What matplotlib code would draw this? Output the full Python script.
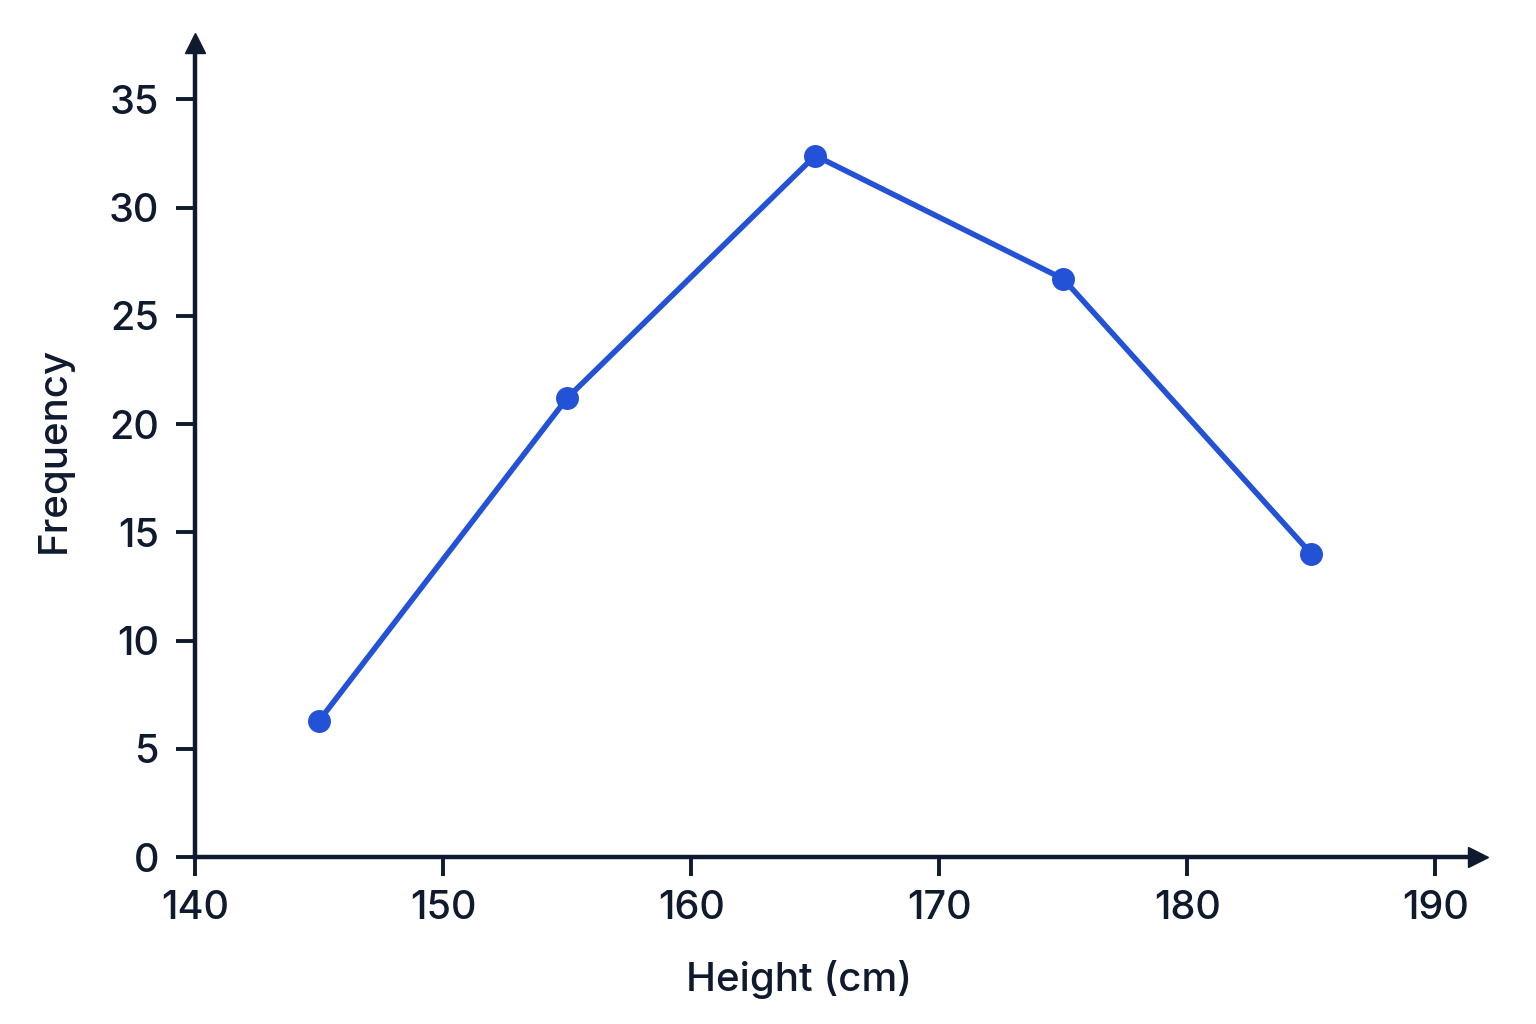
import matplotlib.pyplot as plt

plt.rcParams['font.family'] = ['Inter', 'DejaVu Sans']

heights = [145, 155, 165, 175, 185]
freq = [6.3, 21.2, 32.4, 26.7, 14.0]
xticks = [140, 150, 160, 170, 180, 190]
yticks = [0, 5, 10, 15, 20, 25, 30, 35]

ink = '#0f1a2e'
blue = '#2352d6'

fig = plt.figure(figsize=(15.36, 10.24), dpi=100)
ax = fig.add_axes([0.127, 0.163, 0.835, 0.795])

ax.plot(heights, freq, '-', color=blue, lw=4, marker='o', ms=15.5, zorder=3)

ax.set_xlim(140, 191.7)
ax.set_ylim(0, 37.6)
ax.set_xticks(xticks)
ax.set_yticks(yticks)

for s in ['top', 'right']:
    ax.spines[s].set_visible(False)
for s in ['left', 'bottom']:
    ax.spines[s].set_linewidth(3.2)
    ax.spines[s].set_color(ink)

ax.tick_params(axis='both', colors=ink, labelsize=28.5, length=14, width=2.8)
ax.tick_params(axis='y', pad=12)
ax.tick_params(axis='x', pad=10)
for lab in ax.get_xticklabels() + ax.get_yticklabels():
    lab.set_fontweight('medium')

# arrow heads at the end of the axes
ax.plot(1, 0, '>', color=ink, ms=14, transform=ax.transAxes, clip_on=False)
ax.plot(0, 1, '^', color=ink, ms=14, transform=ax.transAxes, clip_on=False)

ax.set_xlabel('Height (cm)', fontsize=29, color=ink, fontweight='medium')
ax.set_ylabel('Frequency', fontsize=29, color=ink, fontweight='medium')
ax.xaxis.set_label_coords(0.471, -0.126)
ax.yaxis.set_label_coords(-0.095, 0.5)

fig.savefig('out.png', dpi=100, facecolor='white')
